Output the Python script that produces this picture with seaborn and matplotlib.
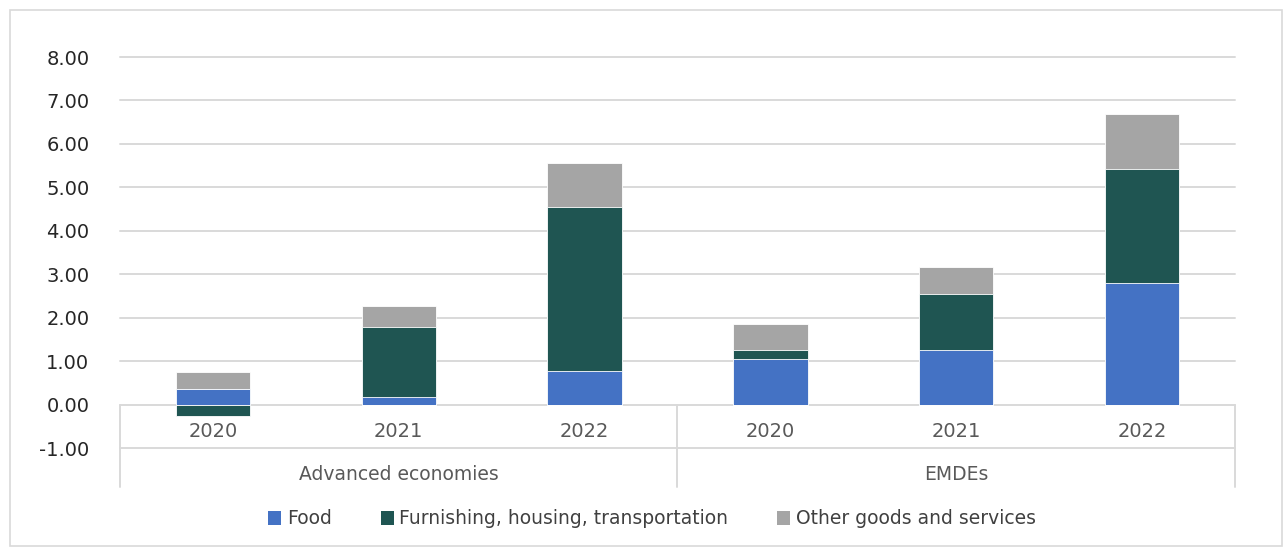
import numpy as np
import pandas as pd
import seaborn as sns
import matplotlib
matplotlib.use("Agg")
import matplotlib.pyplot as plt
from matplotlib.patches import Patch, Rectangle

# Contributions to inflation by component (percentage points)
groups = ["Advanced economies", "EMDEs"]
years = ["2020", "2021", "2022"]
food = [0.36, 0.17, 0.77, 1.05, 1.26, 2.80]
furnishing = [-0.26, 1.62, 3.77, 0.21, 1.29, 2.63]
other = [0.39, 0.47, 1.03, 0.59, 0.61, 1.25]
series_names = ["Food", "Furnishing, housing, transportation", "Other goods and services"]
colors = ["#4472C4", "#1F5552", "#A5A5A5"]
yticks = [-1, 0, 1, 2, 3, 4, 5, 6, 7, 8]

sns.set_theme(style="white")
plt.rcParams["font.family"] = ["DejaVu Sans"]

keys = [f"{g} {y}" for g in groups for y in years]
food_a = np.array(food)
furn_a = np.array(furnishing)
other_a = np.array(other)

# Excel-style stacking: positives stack upward, negatives stack downward
furn_pos = np.clip(furn_a, 0, None)
furn_neg = np.clip(furn_a, None, 0)
level_food = np.where(food_a >= 0, food_a, 0)
level_furn = level_food + furn_pos
level_other = level_furn + other_a

df = pd.DataFrame({
    "key": keys,
    "other_top": level_other,
    "furn_top": level_furn,
    "food_top": level_food,
    "furn_neg": furn_neg,
})

fig = plt.figure(figsize=(12.84, 5.47), dpi=100)
ax = fig.add_axes([120 / 1284, 1 - 448 / 547, 1115 / 1284, 391 / 547])

bar_w = 0.40
for col, c in [("other_top", colors[2]), ("furn_top", colors[1]),
               ("food_top", colors[0]), ("furn_neg", colors[1])]:
    sns.barplot(data=df, x="key", y=col, order=keys, color=c, width=bar_w,
                saturation=1, ax=ax, edgecolor="white", linewidth=0.6, zorder=3)

ax.set_xlim(-0.5, 5.5)
ax.set_ylim(-1, 8)
ax.set_xlabel("")
ax.set_ylabel("")
ax.set_xticks([])
ax.set_yticks(yticks, labels=[f"{t:.2f}" for t in yticks])
ax.tick_params(axis="y", length=0, pad=22, labelsize=14, labelcolor="#262626")
ax.yaxis.grid(True, color="#d9d9d9", linewidth=1.4, zorder=0)
for gl in ax.get_ygridlines():
    gl.set_clip_on(False)
ax.set_axisbelow(True)
for s in ax.spines.values():
    s.set_visible(False)

# Year labels and group labels along the category axis
for i, k in enumerate(keys):
    ax.text(i, -0.63, years[i % 3], ha="center", va="center",
            fontsize=14, color="#595959")
for gi, g in enumerate(groups):
    ax.text(gi * 3 + 1, -1.6, g, ha="center", va="center",
            fontsize=13.5, color="#595959")

# Category separators
for xv in [-0.5, 2.5, 5.5]:
    ax.plot([xv, xv], [0, -1.9], color="#d9d9d9", linewidth=1.4,
            clip_on=False, zorder=1)

handles = [Patch(facecolor=c, edgecolor="none") for c in colors]
fig.legend(handles, series_names, loc="center", bbox_to_anchor=(652 / 1284, 1 - 519 / 547),
           ncol=3, frameon=False, fontsize=13.5, handlelength=0.7, handleheight=0.7,
           handletextpad=0.3, columnspacing=2.6, labelcolor="#404040")

# Outer chart border
fig.patches.append(Rectangle((10 / 1284, 1 / 547), 1272 / 1284, 536 / 547,
                             transform=fig.transFigure, fill=False,
                             edgecolor="#d9d9d9", linewidth=1.2))

fig.savefig("out.png", dpi=100)
